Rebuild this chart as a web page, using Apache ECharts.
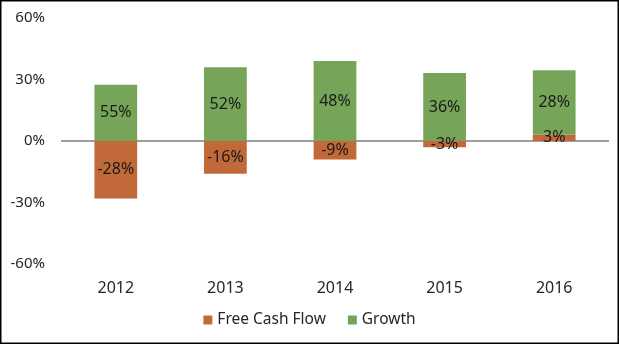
<!DOCTYPE html>
<html><head><meta charset="utf-8">
<script src="https://cdn.jsdelivr.net/npm/echarts@6/dist/echarts.min.js"></script>
<style>html,body{margin:0;padding:0;background:#fff}#c{width:619px;height:344px}</style>
</head><body><div id="c"></div>
<script>
const categories = ['2012','2013','2014','2015','2016'];
const freeCashFlow = [-28, -16, -9, -3, 3];
const growthLabels = [55, 52, 48, 36, 28];
const growthBars = [27.5, 36, 39, 33.2, 31.5];
const yTicks = {min: -60, max: 60, interval: 30};

const chart = echarts.init(document.getElementById('c'), null, {renderer: 'canvas'});
const font = 'Noto Sans';
chart.setOption({
  animation: false,
  textStyle: {fontFamily: font},
  graphic: [{type: 'rect', shape: {x: 0.75, y: 0.75, width: 617.5, height: 342.5}, style: {fill: 'none', stroke: '#000', lineWidth: 1.5}, z: 100}],
  grid: {left: 61, right: 10, top: 18, bottom: 80, containLabel: false},
  legend: {
    bottom: 11, left: 'center', icon: 'rect', itemWidth: 9, itemHeight: 9, itemGap: 22,
    textStyle: {fontFamily: font, fontSize: 15.5, color: '#262626'},
    data: ['Free Cash Flow', 'Growth']
  },
  xAxis: {
    type: 'category', data: categories,
    axisLine: {show: false}, axisTick: {show: false},
    axisLabel: {fontFamily: font, fontSize: 16, color: '#262626', margin: 16}
  },
  yAxis: {
    type: 'value', min: yTicks.min, max: yTicks.max, interval: yTicks.interval,
    splitLine: {show: false}, axisLine: {show: false}, axisTick: {show: false},
    axisLabel: {formatter: '{value}%', fontFamily: font, fontSize: 15, color: '#262626', margin: 16}
  },
  series: [
    {
      name: 'Free Cash Flow', type: 'bar', stack: 'a', data: freeCashFlow, barWidth: '39%',
      itemStyle: {color: '#C2693A'},
      label: {show: true, position: 'inside', formatter: p => p.value + '%', fontFamily: font, fontSize: 16, color: '#1a1a1a'},
      markLine: {silent: true, symbol: 'none', label: {show: false}, lineStyle: {color: '#9E9E9E', width: 2, type: 'solid'}, data: [{yAxis: 0}], z: 1}
    },
    {
      name: 'Growth', type: 'bar', stack: 'a', data: growthBars, barWidth: '39%',
      itemStyle: {color: '#76A55A'},
      label: {show: true, position: 'inside', formatter: p => growthLabels[p.dataIndex] + '%', fontFamily: font, fontSize: 16, color: '#1a1a1a'}
    }
  ]
});
</script></body></html>
